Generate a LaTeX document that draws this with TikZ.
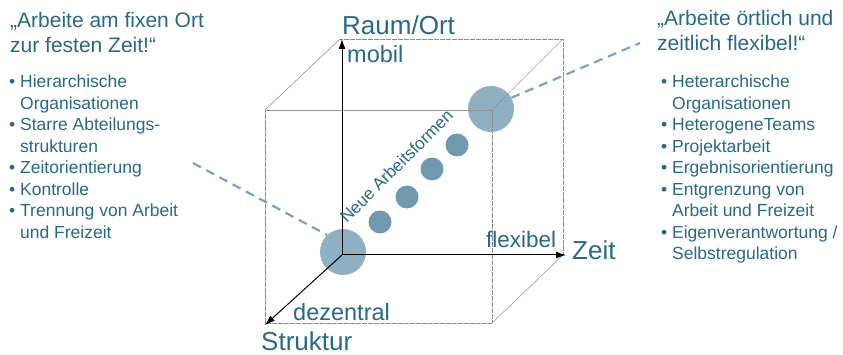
\documentclass[tikz,border=0pt]{standalone}
\usepackage{fontspec}
\setmainfont{Liberation Sans}
\usetikzlibrary{arrows.meta}

\definecolor{txtblue}{RGB}{40,104,138}
\definecolor{bigdot}{RGB}{143,176,194}
\definecolor{smalldot}{RGB}{112,152,174}
\definecolor{dashblue}{RGB}{122,165,190}

\newcommand{\bul}{•\ }
\newcommand{\nobul}{\hphantom{•\ }}

\tikzset{
  cubeline/.style={draw=gray!85, line width=0.6pt},
  cubedots/.style={draw=gray!90, line width=0.7pt, dash pattern=on 0.7pt off 0.5pt},
  axis/.style={line width=1pt, -{Latex[length=10pt,width=7pt]}},
  bigball/.style={circle, fill=bigdot, minimum size=46pt, inner sep=0pt},
  smallball/.style={circle, fill=smalldot, minimum size=23pt, inner sep=0pt},
  axlabel/.style={text=txtblue, inner sep=0pt, anchor=base west},
  headtext/.style={text=txtblue, inner sep=0pt, anchor=north west, align=left,
    font=\fontsize{21}{25}\selectfont},
  listtext/.style={text=txtblue, inner sep=0pt, anchor=north west, align=left,
    font=\fontsize{17.5}{21.5}\selectfont},
  dashline/.style={draw=dashblue, line width=2.2pt, dash pattern=on 9pt off 6pt}
}

\begin{document}
\begin{tikzpicture}[x=1pt,y=-1pt]
  \useasboundingbox (0,0) rectangle (843,355);

  % cube corners
  \coordinate (O) at (342,255);
  \coordinate (btl) at (340,39);
  \coordinate (btr) at (563,39);
  \coordinate (bbr) at (563,255);
  \coordinate (ftl) at (265,110);
  \coordinate (ftr) at (492,110);
  \coordinate (fbl) at (265,323);
  \coordinate (fbr) at (492,323);
  \coordinate (raumtip) at (342,39);
  \coordinate (zeittip) at (566,255);
  \coordinate (strtip) at (265,325);

  % the balls
  \node[bigball] (lowball) at (343,252) {};
  \node[bigball] (upball) at (491,109) {};
  \node[smallball] (ball1) at (380,222) {};
  \node[smallball] (ball2) at (407,197) {};
  \node[smallball] (ball3) at (432,169) {};
  \node[smallball] (ball4) at (457,145) {};

  % cube
  \draw[cubeline] (ftl) -- (ftr);
  \draw[cubeline] (ftl) -- (btl);
  \draw[cubedots] (ftl) -- (fbl) -- (fbr) -- (ftr);
  \draw[cubedots] (btl) -- (btr) -- (bbr);
  \draw[cubedots] (ftr) -- (btr);
  \draw[cubedots] (fbr) -- (bbr);

  % axes
  \draw[axis] (O) -- (raumtip);
  \draw[axis] (O) -- (zeittip);
  \draw[axis] (O) -- (strtip);

  \node[axlabel, font=\fontsize{26}{30}\selectfont] (raum) at (342,35) {Raum/Ort};
  \node[axlabel, font=\fontsize{23.5}{28}\selectfont] (mobil) at (347,63) {mobil};
  \node[axlabel, font=\fontsize{26}{30}\selectfont] (zeit) at (572,260) {Zeit};
  \node[axlabel, font=\fontsize{22.5}{27}\selectfont] (flex) at (486,248) {flexibel};
  \node[axlabel, font=\fontsize{23.5}{28}\selectfont] (dezen) at (293,320) {dezentral};
  \node[axlabel, font=\fontsize{26}{30}\selectfont] (strukt) at (261,350) {Struktur};

  \node[axlabel, rotate=45, font=\fontsize{17}{20}\selectfont] (neue) at (347,224) {Neue Arbeitsformen};

  % dashed pointers
  \coordinate (dashL) at (193,163);
  \coordinate (dashR) at (640,43);
  \draw[dashline] (dashL) -- (lowball.133);
  \draw[dashline] (upball.29) -- (dashR);

  % left text
  \node[headtext] (headL) at (10,12) {„Arbeite am fixen Ort\\zur festen Zeit!“};
  \node[listtext] (listL) at (9,75) {\bul Hierarchische\\\nobul Organisationen\\
    \bul Starre Abteilungs-\\\nobul strukturen\\\bul Zeitorientierung\\
    \bul Kontrolle\\\bul Trennung von Arbeit\\\nobul und Freizeit};

  % right text
  \node[headtext] (headR) at (657,10) {„Arbeite örtlich und\\zeitlich flexibel!“};
  \node[listtext] (listR) at (661,75) {\bul Heterarchische\\\nobul Organisationen\\
    \bul HeterogeneTeams\\\bul Projektarbeit\\\bul Ergebnisorientierung\\
    \bul Entgrenzung von\\\nobul Arbeit und Freizeit\\\bul Eigenverantwortung /\\
    \nobul Selbstregulation};
\end{tikzpicture}
\end{document}
